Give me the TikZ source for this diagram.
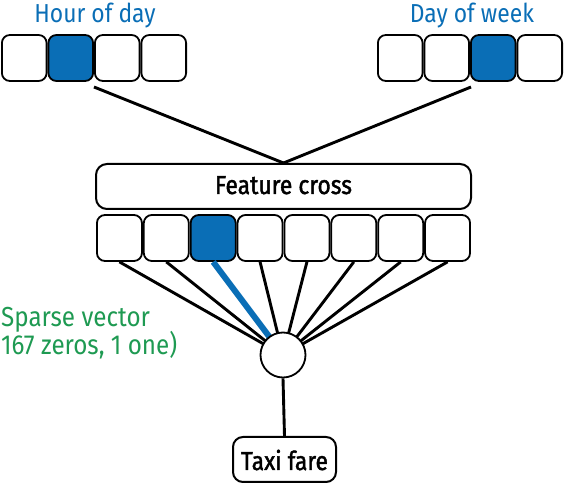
\documentclass[tikz,border=0pt]{standalone}
\usepackage{fontspec}
\setmainfont{Fira Sans}[FakeStretch=0.88]
\newfontfamily\boxfont{Fira Sans}[FakeStretch=0.88, FakeBold=1.6]
\definecolor{oblue}{HTML}{0A6EB6}
\definecolor{ogreen}{HTML}{1E9A52}
\begin{document}
\begin{tikzpicture}[x=1pt,y=-1pt,
  cell/.style={draw=black, line width=1.8pt, rounded corners=8pt, minimum width=44.7pt, minimum height=46pt, inner sep=0pt, fill=white},
  hot/.style={cell, fill=oblue},
  lcell/.style={cell, minimum width=45pt},
  lab/.style={font=\fontsize{26}{30}\selectfont, text=oblue, anchor=base, inner sep=0pt},
  conn/.style={line width=2.9pt, black},
  bigbox/.style={draw=black, line width=2pt, rounded corners=11pt, fill=white, inner sep=0pt},
  boxtext/.style={font=\boxfont\fontsize{26}{30}\selectfont, anchor=base, inner sep=0pt},
  note/.style={font=\fontsize{27.5}{30}\selectfont, text=ogreen, anchor=base west, inner sep=0pt}
]
\useasboundingbox (0,0) rectangle (566,486);

% labels
\node[lab] (hod) at (95,23) {Hour of day};
\node[lab] (dow) at (472,23) {Day of week};

% top-left cells
\node[cell] (a1) at (24.25,58) {};
\node[hot]  (a2) at (70.75,58) {};
\node[cell] (a3) at (117.25,58) {};
\node[cell] (a4) at (163.75,58) {};
% top-right cells
\node[cell] (b1) at (400.25,58) {};
\node[cell] (b2) at (446.75,58) {};
\node[hot]  (b3) at (493.25,58) {};
\node[cell] (b4) at (539.75,58) {};

% feature cross
\node[bigbox, minimum width=375pt, minimum height=45pt] (fc) at (283.5,186.5) {};
\node[boxtext] (fct) at (283.5,194) {Feature cross};

\coordinate (ta) at (94,87);
\coordinate (tb) at (471,87);
\draw[conn] (ta) -- (fc.north);
\draw[conn] (tb) -- (fc.north);

% lower cells
\foreach \i in {1,...,8} {
  \pgfmathsetmacro{\xx}{96+46.875*(\i-0.5)}
  \ifnum\i=3
    \node[hot, minimum width=45pt] (c\i) at (\xx,238) {};
  \else
    \node[lcell] (c\i) at (\xx,238) {};
  \fi
}

% circle
\coordinate (cc) at (283,355);
\foreach \i in {1,2,4,5,6,7,8} {
  \draw[conn] (c\i.south) -- (cc);
}
\draw[line width=6pt, oblue] (c3.south) -- (cc);
\node[circle, draw=black, line width=1.8pt, fill=white, minimum size=45pt, inner sep=0pt] (sum) at (cc) {};

% taxi fare
\node[bigbox, minimum width=103pt, minimum height=45pt, rounded corners=10pt] (tf) at (284.5,459.5) {};
\node[boxtext] (tft) at (284.5,470) {Taxi fare};
\draw[conn] (sum.south) -- (tf.north);

% green text
\node[note] (sv1) at (1,327) {Sparse vector};
\node[note] (sv2) at (1,355) {167 zeros, 1 one)};
\end{tikzpicture}
\end{document}
